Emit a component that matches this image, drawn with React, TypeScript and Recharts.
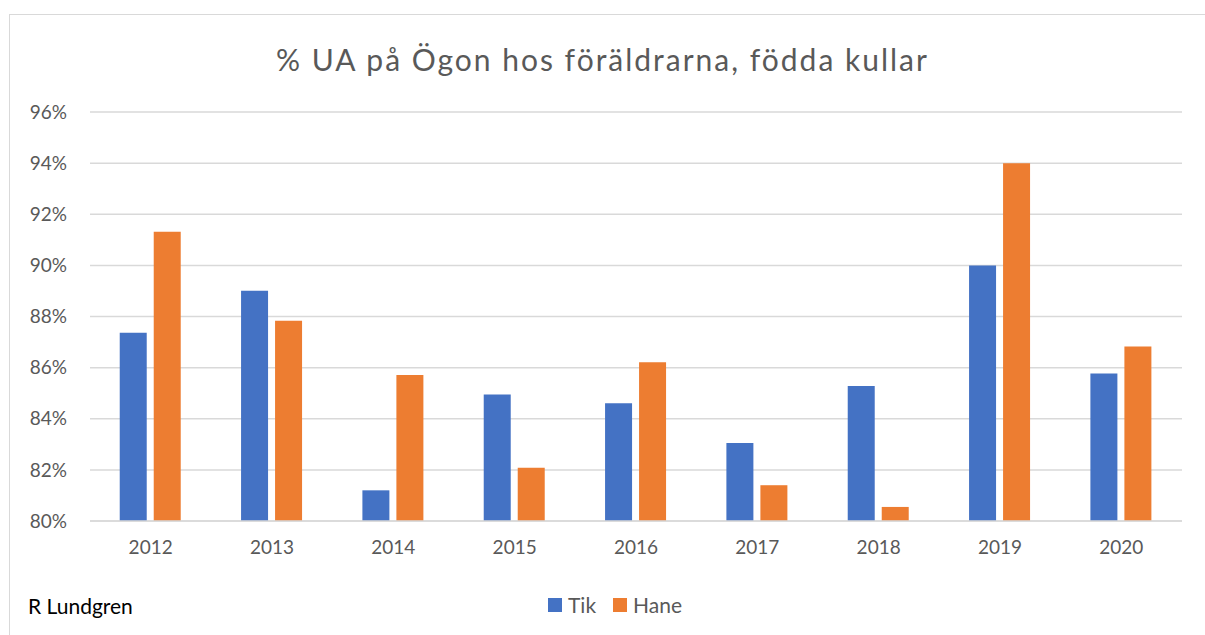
import React from 'react';
import { BarChart, Bar, XAxis, YAxis, CartesianGrid, Legend } from 'recharts';

const years = ['2012', '2013', '2014', '2015', '2016', '2017', '2018', '2019', '2020'];
const tik = [87.36, 89.01, 81.2, 84.95, 84.61, 83.05, 85.28, 90.0, 85.77];
const hane = [91.32, 87.83, 85.71, 82.08, 86.21, 81.4, 80.55, 94.0, 86.83];
const yTicks = [80, 82, 84, 86, 88, 90, 92, 94, 96];
const seriesOrder = ['Tik', 'Hane'];

const data = years.map((y, i) => ({ year: y, Tik: tik[i], Hane: hane[i] }));

const FONT = 'Lato, "Open Sans", sans-serif';
const TEXT = '#595959';

const renderLegend = (props: any) => {
  const items = [...(props.payload || [])].sort(
    (a: any, b: any) => seriesOrder.indexOf(a.value) - seriesOrder.indexOf(b.value)
  );
  return (
    <div style={{ display: 'flex', alignItems: 'center', fontFamily: FONT, fontSize: 21, color: TEXT, lineHeight: '26px' }}>
      {items.map((it: any, i: number) => (
        <div key={it.value} style={{ display: 'flex', alignItems: 'center', marginRight: i < items.length - 1 ? 17 : 0 }}>
          <div style={{ width: 14, height: 14, background: it.color, marginRight: 6 }} />
          <span>{it.value}</span>
        </div>
      ))}
    </div>
  );
};

export default function App() {
  return (
    <div style={{ position: 'absolute', left: 0, top: 0, width: 1205, height: 635, background: '#fff', overflow: 'hidden', fontFamily: FONT }}>
      <div style={{ position: 'absolute', left: 9, top: 14, width: 1210, height: 640, borderLeft: '1.5px solid #d9d9d9', borderTop: '1.5px solid #d9d9d9' }} />
      <div style={{ position: 'absolute', left: 0, width: 1205, top: 41, textAlign: 'center', fontSize: 30, letterSpacing: 2, color: TEXT, fontFamily: FONT, fontWeight: 400, lineHeight: '36px' }}>
        % UA på Ögon hos föräldrarna, födda kullar
      </div>
      <div style={{ position: 'absolute', left: 28, top: 593, fontSize: 21, color: '#000', fontFamily: FONT, lineHeight: '26px' }}>
        R Lundgren
      </div>
      <div style={{ position: 'absolute', left: 0, top: 0 }}>
        <BarChart width={1205} height={635} data={data} margin={{ top: 112, right: 23, left: 0, bottom: 58 }} barCategoryGap="24.5%" barGap={7}>
          <CartesianGrid vertical={false} stroke="#d9d9d9" strokeWidth={1.5} />
          <XAxis dataKey="year" axisLine={{ stroke: '#d9d9d9', strokeWidth: 1.5 }} tickLine={false} tickSize={0} tickMargin={20} height={30}
            tick={{ fill: TEXT, fontSize: 19, fontFamily: FONT }} />
          <YAxis domain={[80, 96]} ticks={yTicks} width={90} axisLine={false} tickLine={false} tickSize={0} tickMargin={23}
            tickFormatter={(v: number) => `${v}%`} tick={{ fill: TEXT, fontSize: 19, fontFamily: FONT }} />
          <Legend content={renderLegend}
            wrapperStyle={{ left: 548, width: 200, top: 592, height: 26 }} />
          <Bar dataKey="Tik" fill="#4472C4" isAnimationActive={false} />
          <Bar dataKey="Hane" fill="#ED7D31" isAnimationActive={false} />
        </BarChart>
      </div>
    </div>
  );
}
